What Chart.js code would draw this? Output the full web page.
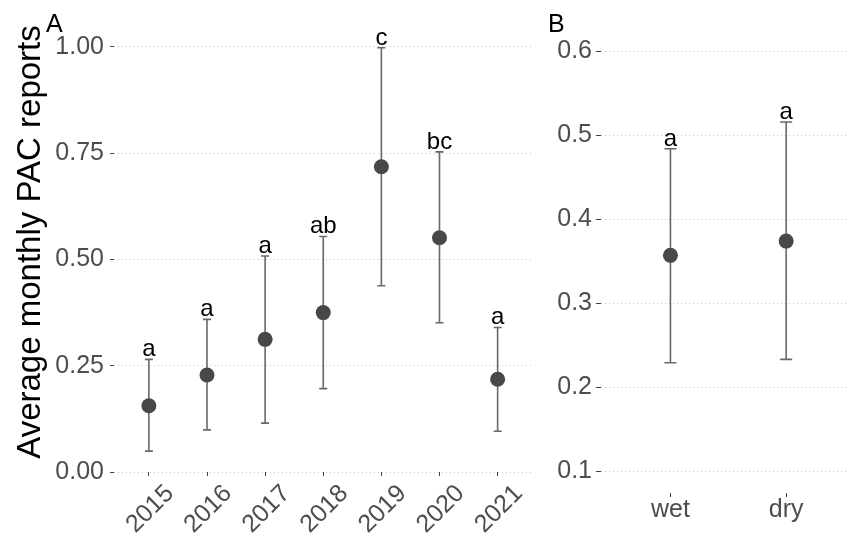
<!DOCTYPE html>
<html>
<head>
<meta charset="utf-8">
<script src="https://cdn.jsdelivr.net/npm/chart.js@4.4.1/dist/chart.umd.min.js"></script>
<style>
    body { margin: 0; background: #fff; }
    #wrap { position: relative; width: 855px; height: 536px; overflow: hidden; }
    canvas { position: absolute; top: 0; }
</style>
</head>
<body>
<div id="wrap">
    <canvas id="chartA" width="540" height="536" style="left:0"></canvas>
    <canvas id="chartB" width="315" height="536" style="left:540px"></canvas>
</div>
<script>
// --- Panel A: by year ---
const years = ['2015', '2016', '2017', '2018', '2019', '2020', '2021'];
const meanA = [0.156, 0.228, 0.312, 0.375, 0.718, 0.551, 0.218];
const lowA = [0.049, 0.099, 0.115, 0.196, 0.438, 0.351, 0.096];
const highA = [0.265, 0.359, 0.508, 0.554, 0.998, 0.753, 0.340];
const groupsA = ['a', 'a', 'a', 'ab', 'c', 'bc', 'a'];
const yTicksA = [0, 0.25, 0.5, 0.75, 1];
const yTickLabelsA = ['0.00', '0.25', '0.50', '0.75', '1.00'];

// --- Panel B: by season ---
const seasons = ['wet', 'dry'];
const meanB = [0.357, 0.374];
const lowB = [0.229, 0.233];
const highB = [0.484, 0.516];
const groupsB = ['a', 'a'];
const yTicksB = [0.1, 0.2, 0.3, 0.4, 0.5, 0.6];
const yTickLabelsB = ['0.1', '0.2', '0.3', '0.4', '0.5', '0.6'];

const FONT = "'Liberation Sans', Arial, Helvetica, sans-serif";
Chart.defaults.font.family = FONT;
Chart.defaults.animation = false;

// error bars + group letters, drawn through the chart scales
const errorBarPlugin = {
    id: 'errorBars',
    beforeDatasetsDraw(chart, args, opts) {
        const { ctx, scales: { x, y } } = chart;
        ctx.save();
        ctx.strokeStyle = '#686868';
        ctx.lineWidth = 1.6;
        opts.low.forEach((lo, i) => {
            const px = x.getPixelForValue(i);
            const yLo = y.getPixelForValue(lo);
            const yHi = y.getPixelForValue(opts.high[i]);
            ctx.beginPath();
            ctx.moveTo(px, yLo); ctx.lineTo(px, yHi);
            ctx.moveTo(px - opts.cap, yLo); ctx.lineTo(px + opts.cap, yLo);
            ctx.moveTo(px - opts.cap, yHi); ctx.lineTo(px + opts.cap, yHi);
            ctx.stroke();
        });
        ctx.restore();
    },
    afterDatasetsDraw(chart, args, opts) {
        const { ctx, scales: { x, y } } = chart;
        ctx.save();
        ctx.fillStyle = '#000';
        ctx.font = '24px ' + FONT;
        ctx.textAlign = 'center';
        ctx.textBaseline = 'alphabetic';
        opts.groups.forEach((g, i) => {
            ctx.fillText(g, x.getPixelForValue(i), y.getPixelForValue(opts.high[i]) - 3);
        });
        // panel tag
        ctx.font = '25px ' + FONT;
        ctx.textAlign = 'left';
        ctx.fillText(opts.tag, opts.tagX, 32);
        ctx.restore();
    }
};

// no automatic edge padding from tick labels
function noPad(s) {
    s.paddingTop = 0; s.paddingBottom = 0;
    s.paddingLeft = 0; s.paddingRight = 0;
}

function makePanel(id, cfg) {
    const ctx = document.getElementById(id).getContext('2d');
    return new Chart(ctx, {
        type: 'scatter',
        data: {
            datasets: [{
                data: cfg.mean.map((v, i) => ({ x: i, y: v })),
                backgroundColor: '#484848',
                borderWidth: 0,
                pointRadius: 7.5,
                clip: false
            }]
        },
        options: {
            responsive: false,
            devicePixelRatio: 1,
            layout: { padding: { top: 12, right: cfg.padRight, left: 0, bottom: 0 } },
            plugins: {
                legend: { display: false },
                tooltip: { enabled: false },
                errorBars: {
                    low: cfg.low, high: cfg.high, groups: cfg.groups,
                    cap: cfg.cap, tag: cfg.tag, tagX: cfg.tagX
                }
            },
            scales: {
                x: {
                    type: 'linear',
                    min: cfg.xMin,
                    max: cfg.xMax,
                    afterBuildTicks: s => { s.ticks = cfg.cats.map((c, i) => ({ value: i })); },
                    afterFit: s => { s.height = cfg.xHeight; noPad(s); },
                    grid: {
                        drawOnChartArea: false,
                        drawTicks: true,
                        tickLength: 4,
                        tickColor: '#444',
                        tickWidth: 1
                    },
                    border: { display: false },
                    ticks: {
                        autoSkip: false,
                        minRotation: cfg.rot,
                        maxRotation: cfg.rot,
                        padding: cfg.xPad,
                        labelOffset: cfg.labelOffset,
                        color: '#4d4d4d',
                        font: { size: 25 },
                        callback: (v, i) => cfg.cats[i]
                    }
                },
                y: {
                    min: cfg.yMin,
                    max: cfg.yMax,
                    afterBuildTicks: s => { s.ticks = cfg.yTicks.map(v => ({ value: v })); },
                    afterFit: s => { s.width = cfg.yWidth; noPad(s); },
                    grid: {
                        color: '#c4c4c4',
                        lineWidth: 1,
                        drawTicks: true,
                        tickLength: cfg.yTickLen,
                        tickColor: '#444',
                        tickWidth: 1,
                        tickBorderDash: []
                    },
                    border: { display: false, dash: [1, 3] },
                    ticks: {
                        padding: cfg.yPad,
                        color: '#4d4d4d',
                        font: { size: 25 },
                        callback: (v, i) => cfg.yLabels[i]
                    },
                    title: cfg.title ? {
                        display: true,
                        text: cfg.title,
                        color: '#000',
                        font: { size: 33 },
                        padding: { top: 11, bottom: 0 }
                    } : { display: false }
                }
            }
        },
        plugins: [errorBarPlugin]
    });
}

makePanel('chartA', {
    cats: years, mean: meanA, low: lowA, high: highA, groups: groupsA,
    yTicks: yTicksA, yLabels: yTickLabelsA,
    xMin: -0.6, xMax: 6.6, yMin: 0, yMax: 1.082,
    yWidth: 114, xHeight: 64, padRight: 1,
    rot: 45, xPad: 3, labelOffset: 21,
    yTickLen: 4, yPad: 6, cap: 4,
    title: 'Average monthly PAC reports',
    tag: 'A', tagX: 46
});

makePanel('chartB', {
    cats: seasons, mean: meanB, low: lowB, high: highB, groups: groupsB,
    yTicks: yTicksB, yLabels: yTickLabelsB,
    xMin: -0.6, xMax: 1.53, yMin: 0.0738, yMax: 0.647,
    yWidth: 61, xHeight: 43, padRight: 0,
    rot: 0, xPad: -2, labelOffset: 0,
    yTickLen: 5, yPad: 4, cap: 6,
    title: null,
    tag: 'B', tagX: 8
});
</script>
</body>
</html>
